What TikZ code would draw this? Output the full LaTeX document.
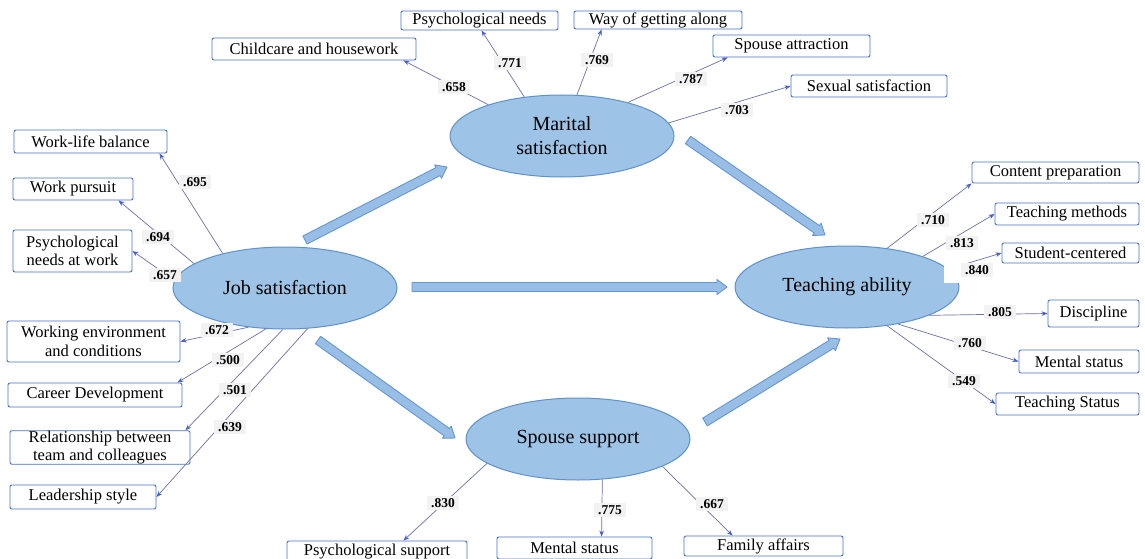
\documentclass[tikz,border=0pt]{standalone}
\usepackage{fontspec}
\setmainfont{Liberation Serif}
\usetikzlibrary{calc,shapes.geometric,arrows.meta}

\definecolor{ellfill}{RGB}{157,195,230}
\definecolor{elldraw}{RGB}{95,145,205}
\definecolor{boxdraw}{RGB}{70,115,200}
\definecolor{linkline}{RGB}{105,115,165}
\definecolor{linktip}{RGB}{70,95,205}
\definecolor{arrfill}{RGB}{152,190,230}
\definecolor{arrdraw}{RGB}{100,150,210}

\tikzset{
  latent/.style={ellipse, draw=elldraw, fill=ellfill, line width=1pt,
    minimum width=224pt, minimum height=82pt, inner sep=0pt,
    font=\fontsize{20}{24}\selectfont, align=center},
  item/.style={draw=boxdraw, fill=white, line width=0.9pt, rounded corners=2pt,
    inner sep=0pt, font=\fontsize{16.5}{18.5}\selectfont, align=center},
  coef/.style={fill=black!5, inner xsep=4pt, inner ysep=2pt,
    font=\fontsize{13.5}{14}\selectfont\bfseries},
  load/.style={draw=linkline, line width=0.7pt,
    -{Stealth[length=6pt,width=4.5pt,color=linktip]}},
  bigarrow/.style={fill=arrfill, draw=arrdraw, line width=0.9pt, line join=round},
}

% block arrow with a short head, from #1 to #2
\newcommand\blockarrow[2]{%
  \coordinate (ba-s) at ($(#2)!10pt!(#1)$);
  \filldraw[bigarrow] ($(#1)!4.5pt!90:(#2)$) -- ($(ba-s)!4.5pt!90:(#2)$)
    -- ($(ba-s)!7.5pt!90:(#2)$) -- (#2) -- ($(ba-s)!7.5pt!-90:(#2)$)
    -- ($(ba-s)!4.5pt!-90:(#2)$) -- ($(#1)!4.5pt!-90:(#2)$) -- cycle;}

\begin{document}
\begin{tikzpicture}[x=1pt,y=-1pt]
\fill[white] (0,0) rectangle (1145,559);
\useasboundingbox (0,0) rectangle (1145,559);

% latent constructs
\node[latent] (job) at (285,288) {Job satisfaction};
\node[latent] (mar) at (562,136) {Marital\\satisfaction};
\node[latent] (ta)  at (847,287) {Teaching ability};
\node[latent] (sp)  at (578,439) {Spouse support};

% structural paths
\coordinate (jm1) at (305,240); \coordinate (jm2) at (447,167);
\coordinate (jt1) at (412,287); \coordinate (jt2) at (727,287);
\coordinate (js1) at (318,340); \coordinate (js2) at (455,438);
\coordinate (mt1) at (688,140); \coordinate (mt2) at (825,235);
\coordinate (st1) at (705,422); \coordinate (st2) at (840,339);
\blockarrow{jm1}{jm2}
\blockarrow{jt1}{jt2}
\blockarrow{js1}{js2}
\blockarrow{mt1}{mt2}
\blockarrow{st1}{st2}

% indicators: marital satisfaction
\node[item, minimum width=204pt, minimum height=22pt] (ch) at (314,49) {Childcare and housework};
\node[item, minimum width=157pt, minimum height=19pt] (pn) at (479.5,20.5) {Psychological needs};
\node[item, minimum width=168pt, minimum height=18pt] (wg) at (658,20) {Way of getting along};
\node[item, minimum width=157pt, minimum height=22pt] (sa) at (791.5,46) {Spouse attraction};
\node[item, minimum width=156pt, minimum height=22pt] (ss) at (869,86) {Sexual satisfaction};

% indicators: job satisfaction
\node[item, minimum width=153pt, minimum height=23pt] (wl) at (90.5,141.5) {Work-life balance};
\node[item, minimum width=120pt, minimum height=22pt] (wp) at (73,189) {Work pursuit};
\node[item, minimum width=119pt, minimum height=42pt] (pw) at (72.5,251) {Psychological\\needs at work};
\node[item, minimum width=173pt, minimum height=41pt] (we) at (93.5,341.5) {Working environment\\and conditions};
\node[item, minimum width=174pt, minimum height=24pt] (cd) at (95,395) {Career Development};
\node[item, minimum width=180pt, minimum height=33pt] (rt) at (100,447.5) {Relationship between\\team and colleagues};
\node[item, minimum width=146pt, minimum height=24pt] (ls) at (83,497) {Leadership style};

% indicators: teaching ability
\node[item, minimum width=167pt, minimum height=21pt] (cp) at (1055.5,172.5) {Content preparation};
\node[item, minimum width=144pt, minimum height=22pt] (tm) at (1067,214) {Teaching methods};
\node[item, minimum width=137pt, minimum height=20pt] (sc) at (1070.5,253) {Student-centered};
\node[item, minimum width=91pt, minimum height=27pt] (di) at (1093.5,313.5) {Discipline};
\node[item, minimum width=120pt, minimum height=23pt] (ms) at (1079,361.5) {Mental status};
\node[item, minimum width=143pt, minimum height=22pt] (ts) at (1067.5,404) {Teaching Status};

% indicators: spouse support
\node[item, minimum width=180pt, minimum height=21pt] (ps) at (377,551.5) {Psychological support};
\node[item, minimum width=155pt, minimum height=22pt] (mst) at (574.5,548) {Mental status};
\node[item, minimum width=159pt, minimum height=20pt] (fa) at (763.5,546) {Family affairs};

% loadings
\draw[load] (mar.157) -- ([xshift=-13pt]ch.south east);
\draw[load] (mar.134) -- ([xshift=2pt]pn.south);
\draw[load] (mar.70)  -- ([xshift=28pt]wg.south west);
\draw[load] (mar.27)  -- ([xshift=15pt]sa.south west);
\draw[load] (mar.7)   -- (ss.west);

\draw[load] (job.151) -- ([xshift=-8pt]wl.south east);
\draw[load] (job.165) -- ([xshift=-15pt]wp.south east);
\draw[load] (job.176) -- (pw.east);
\draw[load] (job.227) -- (we.east);
\draw[load] (job.245) -- ([xshift=-5pt]cd.north east);
\draw[load] (job.267) -- ([xshift=-5pt]rt.north east);
\draw[load] (job.299) -- (ls.east);

\draw[load] (ta.44)  -- (cp.south west);
\draw[load] (ta.22)  -- (tm.west);
\draw[load] (ta.10)  -- (sc.west);
\draw[load] (ta.-19) -- (di.west);
\draw[load] (ta.-36) -- (ms.west);
\draw[load] (ta.-44) -- (ts.west);

\draw[load] (sp.195) -- ([xshift=-64pt]ps.north east);
\draw[load] (sp.-59) -- ([xshift=105pt]mst.north west);
\draw[load] (sp.-18) -- ([xshift=49pt]fa.north west);

% loading values
\node[coef] (c658) at (454,87)  {.658};
\node[coef] (c771) at (510,63)  {.771};
\node[coef] (c769) at (597,60)  {.769};
\node[coef] (c787) at (691,79)  {.787};
\node[coef] (c703) at (737,110) {.703};

\node[coef] (c695) at (195,182) {.695};
\node[coef] (c694) at (158,237) {.694};
\node[coef] (c657) at (165,275) {.657};
\node[coef] (c672) at (217,330) {.672};
\node[coef] (c500) at (228,360) {.500};
\node[coef] (c501) at (235,390) {.501};
\node[coef] (c639) at (230,427) {.639};

\fill[white] (944,259) rectangle (961,283);
\node[coef] (c710) at (933,220) {.710};
\node[coef] (c813) at (962,243) {.813};
\node[coef] (c840) at (977,270) {.840};
\node[coef] (c805) at (1000,312) {.805};
\node[coef] (c760) at (970,343) {.760};
\node[coef] (c549) at (964,381) {.549};

\node[coef] (c830) at (443,503) {.830};
\node[coef] (c775) at (610,510) {.775};
\node[coef] (c667) at (712,504) {.667};
\end{tikzpicture}
\end{document}
